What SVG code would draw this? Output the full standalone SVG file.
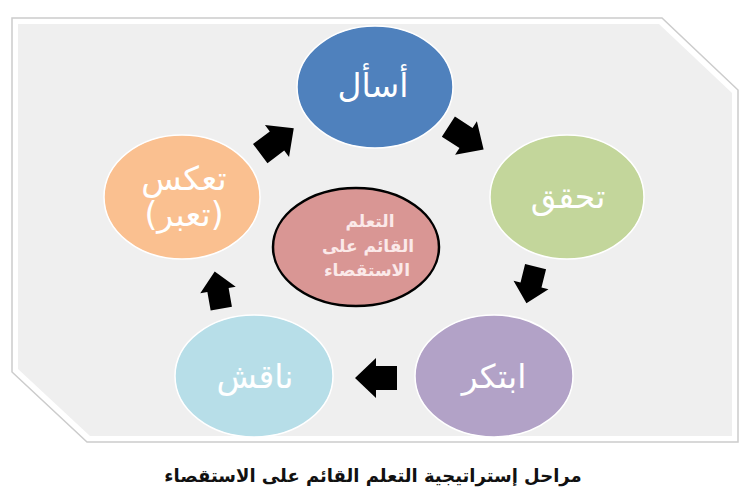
<svg xmlns="http://www.w3.org/2000/svg" width="750" height="492" viewBox="0 0 750 492">
<defs>
<style>
.lbl{font-family:"DejaVu Sans","Noto Sans",sans-serif;fill:#ffffff;text-anchor:middle;font-size:33px;}
.ctr{font-family:"DejaVu Sans","Noto Sans",sans-serif;fill:#fbe9e9;text-anchor:middle;font-size:17px;font-weight:bold;}
.cap{font-family:"DejaVu Sans","Noto Sans",sans-serif;fill:#111111;text-anchor:middle;font-size:18px;font-weight:bold;}
.node{stroke:#ffffff;stroke-width:1.5;}
</style>
<path id="arr" d="M-21,-12 L0,-12 L0,-20 L21,0 L0,20 L0,12 L-21,12 Z" fill="#000000"/>
</defs>
<rect width="750" height="492" fill="#ffffff"/>
<g id="frame">
<polygon points="12,18 662,18 738,90 738,442 87,442 12,372" fill="#ffffff" stroke="#cccccc" stroke-width="1.5"/>
<polygon points="18,24 659,24 732,93 732,436 90,436 18,369" fill="#efefef"/>
</g>
<g id="connectors">
<use href="#arr" transform="translate(277,141) rotate(-37)"/>
<use href="#arr" transform="translate(466,138) rotate(33)"/>
<use href="#arr" transform="translate(531,285) rotate(104) scale(0.9)"/>
<use href="#arr" transform="translate(376,378)  rotate(180)"/>
<use href="#arr" transform="translate(218,290) rotate(-100) scale(0.9)"/>
</g>
<g id="n-center">
<ellipse cx="356" cy="247" rx="83" ry="59" fill="#d99694" stroke="#000000" stroke-width="2.5"/>
<text class="ctr" x="370" y="227">التعلم</text>
<text class="ctr" x="368" y="252">القائم على</text>
<text class="ctr" x="367" y="276">الاستقصاء</text>
</g>
<g id="n-ask">
<ellipse class="node" cx="375" cy="87" rx="78" ry="61" fill="#4f81bd"/>
<text class="lbl" x="373" y="97">أسأل</text>
</g>
<g id="n-verify">
<ellipse class="node" cx="567" cy="197" rx="77" ry="62" fill="#c3d69b"/>
<text class="lbl" x="568" y="208">تحقق</text>
</g>
<g id="n-create">
<ellipse class="node" cx="494" cy="376" rx="79" ry="61" fill="#b2a2c7"/>
<text class="lbl" x="494" y="388">ابتكر</text>
</g>
<g id="n-discuss">
<ellipse class="node" cx="254" cy="376" rx="79" ry="61" fill="#b7dee8"/>
<text class="lbl" x="255" y="388">ناقش</text>
</g>
<g id="n-reflect">
<ellipse class="node" cx="182" cy="197" rx="78" ry="62" fill="#fac090"/>
<text class="lbl" x="184" y="190">تعكس</text>
<text class="lbl" x="184" y="226">(تعبر)</text>
</g>
<text class="cap" x="373" y="482">مراحل إستراتيجية التعلم القائم على الاستقصاء</text>
</svg>
